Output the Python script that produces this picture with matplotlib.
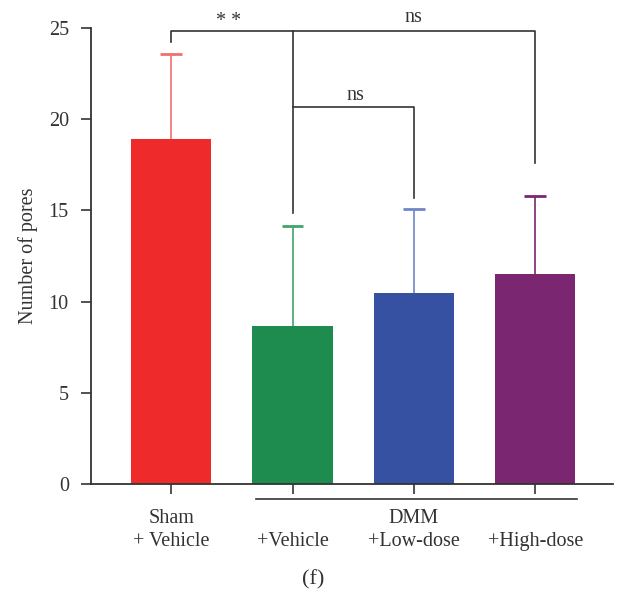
import matplotlib.pyplot as plt

# data
groups = ["Sham\n+ Vehicle", "\n+Vehicle", "DMM\n+Low-dose", "\n+High-dose"]
means = [18.9, 8.65, 10.45, 11.5]
sd_upper = [4.7, 5.5, 4.6, 4.3]
bar_colors = ["#EE2A2A", "#1E8C4E", "#3650A2", "#7A2670"]
err_colors = ["#F07070", "#3FA56C", "#6F86C5", "#7A2670"]

plt.rcParams['font.family'] = ['Liberation Serif', 'DejaVu Serif']
ink = "#333333"
fs = 14.5

fig = plt.figure(figsize=(6.18, 6.03), dpi=100)
ax = fig.add_axes([91 / 618, 1 - 484 / 603, 522 / 618, 456 / 603])

x = list(range(len(groups)))
ax.bar(x, means, width=0.66, color=bar_colors, zorder=2)
# upper-only error bars with a single cap
for xi, m, e, c in zip(x, means, sd_upper, err_colors):
    ax.vlines(xi, m, m + e, color=c, lw=1.2, zorder=1)
    ax.hlines(m + e, xi - 0.09, xi + 0.09, color=c, lw=2, zorder=1)

ax.set_xlim(-0.66, 3.64)
ax.set_ylim(0, 25)
ax.set_yticks([0, 5, 10, 15, 20, 25])
ax.set_xticks(x)
ax.set_xticklabels(groups, fontsize=fs, color=ink, linespacing=1.3)
ax.tick_params(axis='x', length=7, width=1.2, color=ink, pad=11)
ax.tick_params(axis='y', length=7, width=1.2, color=ink, labelsize=fs,
               labelcolor=ink, pad=9)
for s in ['top', 'right']:
    ax.spines[s].set_visible(False)
for s in ['left', 'bottom']:
    ax.spines[s].set_color(ink)
    ax.spines[s].set_linewidth(1.3)
ax.set_ylabel("Number of pores", fontsize=fs, color=ink, labelpad=8)

# significance brackets
lw = 1.2
ax.plot([0, 0, 3, 3], [24.23, 24.84, 24.84, 17.6], color=ink, lw=lw, clip_on=False)
ax.plot([1, 1], [24.84, 14.86], color=ink, lw=lw, clip_on=False)
ax.plot([1, 2, 2], [20.67, 20.67, 15.68], color=ink, lw=lw, clip_on=False)
ax.text(0.47, 24.85, "* *", ha='center', va='bottom', fontsize=fs, color=ink)
ax.text(2.0, 25.05, "ns", ha='center', va='bottom', fontsize=fs, color=ink)
ax.text(1.52, 20.8, "ns", ha='center', va='bottom', fontsize=fs, color=ink)

# DMM group line
ax.plot([0.7, 3.34], [-0.82, -0.82], color=ink, lw=1.2, clip_on=False)

fig.text(313 / 618, 1 - 580 / 603, "(f)", ha='center', va='center',
         fontsize=16, color=ink)

fig.savefig("out.png", dpi=100)
